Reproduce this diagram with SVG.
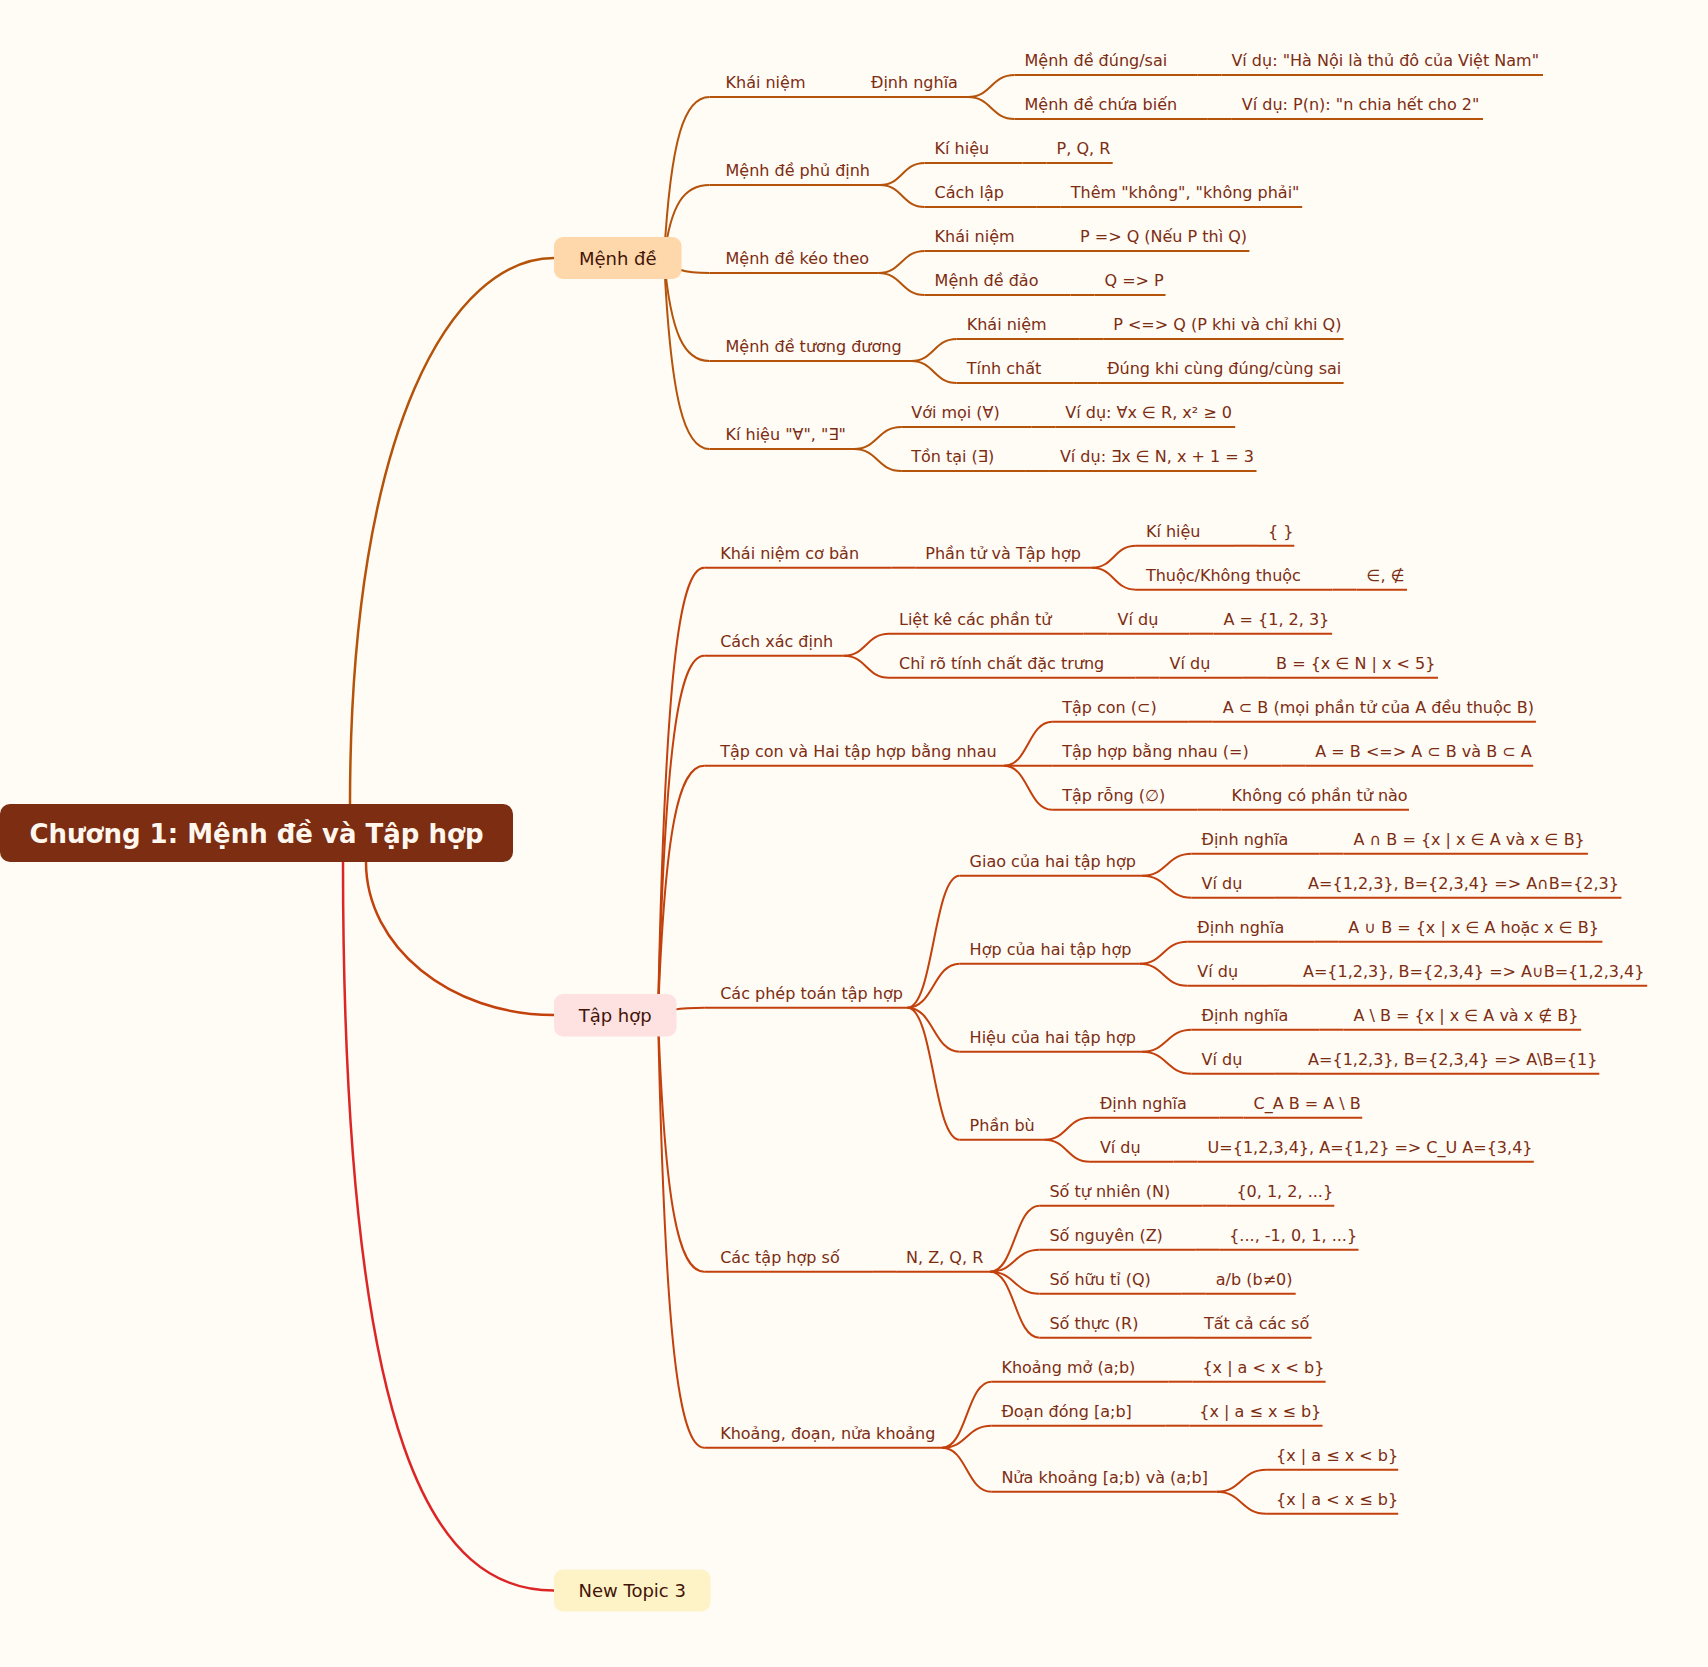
<svg xmlns="http://www.w3.org/2000/svg" width="1708" height="1667" viewBox="0 0 1708 1667">
<style>
.bg{fill:#FFFBF5}
.c{fill:none;stroke-width:2}
.ca{stroke:#B45309}
.co{stroke:#C2410C}
.cr{stroke:#DC2626}
.root{fill:none;stroke-width:2.5}
.ul path{fill:none;stroke-width:2}
.l{font-family:"DejaVu Sans","Noto Sans",sans-serif;font-size:16px;fill:#7C2D12;stroke:none}
.bt{font-family:"DejaVu Sans","Noto Sans",sans-serif;font-size:18px;fill:#431407;text-anchor:middle;stroke:none}
.rt{font-family:"DejaVu Sans","Noto Sans",sans-serif;font-size:26px;font-weight:bold;fill:#FFF7ED;text-anchor:middle;stroke:none}
</style>
<rect class="bg" x="0" y="0" width="1708" height="1667"/>
<g id="connectors">
<path class="root ca" d="M350 804C350 424 454 258 554 258"/>
<path class="root co" d="M366 862C366 946.5 450 1015 554 1015"/>
<path class="root cr" d="M343 862C343 1450 435 1590.5 554 1590.5"/>
<g class="c ca">
<path d="M664 258C670.8 137.25 684.5 97 709.5 97"/>
<path d="M664 258C670.8 203.25 684.5 185 709.5 185"/>
<path d="M664 258C670.8 269.25 684.5 273 709.5 273"/>
<path d="M664 258C670.8 335.25 684.5 361 709.5 361"/>
<path d="M664 258C670.8 401.25 684.5 449 709.5 449"/>
<path d="M837 97H861"/>
<path d="M968 97C991.25 97 991.25 75 1014.5 75"/>
<path d="M968 97C991.25 97 991.25 119 1014.5 119"/>
<path d="M1197.4 75H1221.4"/>
<path d="M1207.8 119H1231.8"/>
<path d="M880 185C902.3 185 902.3 163 924.6 163"/>
<path d="M880 185C902.3 185 902.3 207 924.6 207"/>
<path d="M1022.6 163H1046.6"/>
<path d="M1036.8 207H1060.8"/>
<path d="M878.5 273C901.55 273 901.55 251 924.6 251"/>
<path d="M878.5 273C901.55 273 901.55 295 924.6 295"/>
<path d="M1046 251H1070"/>
<path d="M1070.5 295H1094.5"/>
<path d="M911.2 361C933.95 361 933.95 339 956.7 339"/>
<path d="M911.2 361C933.95 361 933.95 383 956.7 383"/>
<path d="M1079.2 339H1103.2"/>
<path d="M1073.2 383H1097.2"/>
<path d="M854 449C877.6 449 877.6 427 901.2 427"/>
<path d="M854 449C877.6 449 877.6 471 901.2 471"/>
<path d="M1031.3 427H1055.3"/>
<path d="M1025.9 471H1049.9"/>
</g>
<g class="c co">
<path d="M658 1015C664.9 679.5 678.8 567.7 704.2 567.7"/>
<path d="M658 1015C664.9 745.5 678.8 655.7 704.2 655.7"/>
<path d="M658 1015C664.9 828 678.8 765.7 704.2 765.7"/>
<path d="M658 1015C664.9 1009.5 678.8 1007.7 704.2 1007.7"/>
<path d="M658 1015C664.9 1207.5 678.8 1271.7 704.2 1271.7"/>
<path d="M658 1015C664.9 1339.5 678.8 1447.7 704.2 1447.7"/>
<path d="M891.3 567.7H915.3"/>
<path d="M1092 567.7C1113.95 567.7 1113.95 545.7 1135.9 545.7"/>
<path d="M1092 567.7C1113.95 567.7 1113.95 589.7 1135.9 589.7"/>
<path d="M1234 545.7H1258"/>
<path d="M1332.5 589.7H1356.5"/>
<path d="M843.6 655.7C866.3 655.7 866.3 633.7 889 633.7"/>
<path d="M843.6 655.7C866.3 655.7 866.3 677.7 889 677.7"/>
<path d="M1083.6 633.7H1107.6"/>
<path d="M1189.5 633.7H1213.5"/>
<path d="M1135.5 677.7H1159.5"/>
<path d="M1242.1 677.7H1266.1"/>
<path d="M1004.2 765.7C1028.2 765.7 1028.2 721.7 1052.2 721.7"/>
<path d="M1004.2 765.7H1052.2"/>
<path d="M1004.2 765.7C1028.2 765.7 1028.2 809.7 1052.2 809.7"/>
<path d="M1188.8 721.7H1212.8"/>
<path d="M1281.3 765.7H1305.3"/>
<path d="M1197.6 809.7H1221.6"/>
<path d="M907.4 1007.7C933.5 1007.7 933.5 875.7 959.6 875.7"/>
<path d="M907.4 1007.7C933.5 1007.7 933.5 963.7 959.6 963.7"/>
<path d="M907.4 1007.7C933.5 1007.7 933.5 1051.7 959.6 1051.7"/>
<path d="M907.4 1007.7C933.5 1007.7 933.5 1139.7 959.6 1139.7"/>
<path d="M1142.2 875.7C1166.85 875.7 1166.85 853.7 1191.5 853.7"/>
<path d="M1142.2 875.7C1166.85 875.7 1166.85 897.7 1191.5 897.7"/>
<path d="M1319.5 853.7H1343.5"/>
<path d="M1274.1 897.7H1298.1"/>
<path d="M1139.6 963.7C1163.45 963.7 1163.45 941.7 1187.3 941.7"/>
<path d="M1139.6 963.7C1163.45 963.7 1163.45 985.7 1187.3 985.7"/>
<path d="M1314.3 941.7H1338.3"/>
<path d="M1269 985.7H1293"/>
<path d="M1142.2 1051.7C1166.85 1051.7 1166.85 1029.7 1191.5 1029.7"/>
<path d="M1142.2 1051.7C1166.85 1051.7 1166.85 1073.7 1191.5 1073.7"/>
<path d="M1319.5 1029.7H1343.5"/>
<path d="M1274.1 1073.7H1298.1"/>
<path d="M1044.3 1139.7C1067.1 1139.7 1067.1 1117.7 1089.9 1117.7"/>
<path d="M1044.3 1139.7C1067.1 1139.7 1067.1 1161.7 1089.9 1161.7"/>
<path d="M1219.5 1117.7H1243.5"/>
<path d="M1173.6 1161.7H1197.6"/>
<path d="M872.1 1271.7H896.1"/>
<path d="M990.1 1271.7C1014.75 1271.7 1014.75 1205.7 1039.4 1205.7"/>
<path d="M990.1 1271.7C1014.75 1271.7 1014.75 1249.7 1039.4 1249.7"/>
<path d="M990.1 1271.7C1014.75 1271.7 1014.75 1293.7 1039.4 1293.7"/>
<path d="M990.1 1271.7C1014.75 1271.7 1014.75 1337.7 1039.4 1337.7"/>
<path d="M1202.4 1205.7H1226.4"/>
<path d="M1195.2 1249.7H1219.2"/>
<path d="M1181.8 1293.7H1205.8"/>
<path d="M1170 1337.7H1194"/>
<path d="M942.2 1447.7C966.8 1447.7 966.8 1381.7 991.4 1381.7"/>
<path d="M942.2 1447.7C966.8 1447.7 966.8 1425.7 991.4 1425.7"/>
<path d="M942.2 1447.7C966.8 1447.7 966.8 1491.7 991.4 1491.7"/>
<path d="M1168.4 1381.7H1192.4"/>
<path d="M1165.3 1425.7H1189.3"/>
<path d="M1216.8 1491.7C1241.45 1491.7 1241.45 1469.7 1266.1 1469.7"/>
<path d="M1216.8 1491.7C1241.45 1491.7 1241.45 1513.7 1266.1 1513.7"/>
</g>
</g>
<g id="n-root"><rect x="0" y="804" width="513" height="58" rx="10" fill="#7C2D12"/><text class="rt" x="256.5" y="842.5">Chương 1: Mệnh đề và Tập hợp</text></g>
<g id="n-menhde"><rect x="554" y="237" width="127.5" height="42" rx="9" fill="#FED7AA"/><text class="bt" x="617.8" y="264.5">Mệnh đề</text></g>
<g id="n-taphop"><rect x="554" y="994" width="122.5" height="42.5" rx="9" fill="#FEE2E2"/><text class="bt" x="615.2" y="1021.5">Tập hợp</text></g>
<g id="n-newtopic"><rect x="554" y="1569.5" width="156.5" height="42" rx="9" fill="#FEF3C7"/><text class="bt" x="632.2" y="1596.5">New Topic 3</text></g>
<g class="ul ca">
<g id="m1"><path d="M709.5 97H837"/><text class="l" x="725.5" y="88">Khái niệm</text></g>
<g id="m1-dn"><path d="M861 97H968"/><text class="l" x="871" y="88">Định nghĩa</text></g>
<g id="m1-a"><path d="M1014.5 75H1197.4"/><text class="l" x="1024.5" y="66">Mệnh đề đúng/sai</text></g>
<g id="m1-a-v"><path d="M1221.4 75H1543"/><text class="l" x="1231.4" y="66">Ví dụ: "Hà Nội là thủ đô của Việt Nam"</text></g>
<g id="m1-b"><path d="M1014.5 119H1207.8"/><text class="l" x="1024.5" y="110">Mệnh đề chứa biến</text></g>
<g id="m1-b-v"><path d="M1231.8 119H1483"/><text class="l" x="1241.8" y="110">Ví dụ: P(n): "n chia hết cho 2"</text></g>
<g id="m2"><path d="M709.5 185H880"/><text class="l" x="725.5" y="176">Mệnh đề phủ định</text></g>
<g id="m2-a"><path d="M924.6 163H1022.6"/><text class="l" x="934.6" y="154">Kí hiệu</text></g>
<g id="m2-a-v"><path d="M1046.6 163H1112.7"/><text class="l" x="1056.6" y="154">P, Q, R</text></g>
<g id="m2-b"><path d="M924.6 207H1036.8"/><text class="l" x="934.6" y="198">Cách lập</text></g>
<g id="m2-b-v"><path d="M1060.8 207H1302.2"/><text class="l" x="1070.8" y="198">Thêm "không", "không phải"</text></g>
<g id="m3"><path d="M709.5 273H878.5"/><text class="l" x="725.5" y="264">Mệnh đề kéo theo</text></g>
<g id="m3-a"><path d="M924.6 251H1046"/><text class="l" x="934.6" y="242">Khái niệm</text></g>
<g id="m3-a-v"><path d="M1070 251H1249.4"/><text class="l" x="1080" y="242">P =&gt; Q (Nếu P thì Q)</text></g>
<g id="m3-b"><path d="M924.6 295H1070.5"/><text class="l" x="934.6" y="286">Mệnh đề đảo</text></g>
<g id="m3-b-v"><path d="M1094.5 295H1165.5"/><text class="l" x="1104.5" y="286">Q =&gt; P</text></g>
<g id="m4"><path d="M709.5 361H911.2"/><text class="l" x="725.5" y="352">Mệnh đề tương đương</text></g>
<g id="m4-a"><path d="M956.7 339H1079.2"/><text class="l" x="966.7" y="330">Khái niệm</text></g>
<g id="m4-a-v"><path d="M1103.2 339H1343.6"/><text class="l" x="1113.2" y="330">P &lt;=&gt; Q (P khi và chỉ khi Q)</text></g>
<g id="m4-b"><path d="M956.7 383H1073.2"/><text class="l" x="966.7" y="374">Tính chất</text></g>
<g id="m4-b-v"><path d="M1097.2 383H1343.6"/><text class="l" x="1107.2" y="374">Đúng khi cùng đúng/cùng sai</text></g>
<g id="m5"><path d="M709.5 449H854"/><text class="l" x="725.5" y="440">Kí hiệu "∀", "∃"</text></g>
<g id="m5-a"><path d="M901.2 427H1031.3"/><text class="l" x="911.2" y="418">Với mọi (∀)</text></g>
<g id="m5-a-v"><path d="M1055.3 427H1235.2"/><text class="l" x="1065.3" y="418">Ví dụ: ∀x ∈ R, x² ≥ 0</text></g>
<g id="m5-b"><path d="M901.2 471H1025.9"/><text class="l" x="911.2" y="462">Tồn tại (∃)</text></g>
<g id="m5-b-v"><path d="M1049.9 471H1256.5"/><text class="l" x="1059.9" y="462">Ví dụ: ∃x ∈ N, x + 1 = 3</text></g>
</g>
<g class="ul co">
<g id="t1"><path d="M704.2 567.7H891.3"/><text class="l" x="720.2" y="558.7">Khái niệm cơ bản</text></g>
<g id="t1-n"><path d="M915.3 567.7H1092"/><text class="l" x="925.3" y="558.7">Phần tử và Tập hợp</text></g>
<g id="t1-a"><path d="M1135.9 545.7H1234"/><text class="l" x="1145.9" y="536.7">Kí hiệu</text></g>
<g id="t1-a-v"><path d="M1258 545.7H1294.3"/><text class="l" x="1268" y="536.7">{ }</text></g>
<g id="t1-b"><path d="M1135.9 589.7H1332.5"/><text class="l" x="1145.9" y="580.7">Thuộc/Không thuộc</text></g>
<g id="t1-b-v"><path d="M1356.5 589.7H1407"/><text class="l" x="1366.5" y="580.7">∈, ∉</text></g>
<g id="t2"><path d="M704.2 655.7H843.6"/><text class="l" x="720.2" y="646.7">Cách xác định</text></g>
<g id="t2-a"><path d="M889 633.7H1083.6"/><text class="l" x="899" y="624.7">Liệt kê các phần tử</text></g>
<g id="t2-a-vd"><path d="M1107.6 633.7H1189.5"/><text class="l" x="1117.6" y="624.7">Ví dụ</text></g>
<g id="t2-a-v"><path d="M1213.5 633.7H1332.1"/><text class="l" x="1223.5" y="624.7">A = {1, 2, 3}</text></g>
<g id="t2-b"><path d="M889 677.7H1135.5"/><text class="l" x="899" y="668.7">Chỉ rõ tính chất đặc trưng</text></g>
<g id="t2-b-vd"><path d="M1159.5 677.7H1242.1"/><text class="l" x="1169.5" y="668.7">Ví dụ</text></g>
<g id="t2-b-v"><path d="M1266.1 677.7H1438"/><text class="l" x="1276.1" y="668.7">B = {x ∈ N | x &lt; 5}</text></g>
<g id="t3"><path d="M704.2 765.7H1004.2"/><text class="l" x="720.2" y="756.7">Tập con và Hai tập hợp bằng nhau</text></g>
<g id="t3-a"><path d="M1052.2 721.7H1188.8"/><text class="l" x="1062.2" y="712.7">Tập con (⊂)</text></g>
<g id="t3-a-v"><path d="M1212.8 721.7H1535.9"/><text class="l" x="1222.8" y="712.7">A ⊂ B (mọi phần tử của A đều thuộc B)</text></g>
<g id="t3-b"><path d="M1052.2 765.7H1281.3"/><text class="l" x="1062.2" y="756.7">Tập hợp bằng nhau (=)</text></g>
<g id="t3-b-v"><path d="M1305.3 765.7H1533.2"/><text class="l" x="1315.3" y="756.7">A = B &lt;=&gt; A ⊂ B và B ⊂ A</text></g>
<g id="t3-c"><path d="M1052.2 809.7H1197.6"/><text class="l" x="1062.2" y="800.7">Tập rỗng (∅)</text></g>
<g id="t3-c-v"><path d="M1221.6 809.7H1409"/><text class="l" x="1231.6" y="800.7">Không có phần tử nào</text></g>
<g id="t4"><path d="M704.2 1007.7H907.4"/><text class="l" x="720.2" y="998.7">Các phép toán tập hợp</text></g>
<g id="t4-a"><path d="M959.6 875.7H1142.2"/><text class="l" x="969.6" y="866.7">Giao của hai tập hợp</text></g>
<g id="t4-a-1"><path d="M1191.5 853.7H1319.5"/><text class="l" x="1201.5" y="844.7">Định nghĩa</text></g>
<g id="t4-a-1-v"><path d="M1343.5 853.7H1587.9"/><text class="l" x="1353.5" y="844.7">A ∩ B = {x | x ∈ A và x ∈ B}</text></g>
<g id="t4-a-2"><path d="M1191.5 897.7H1274.1"/><text class="l" x="1201.5" y="888.7">Ví dụ</text></g>
<g id="t4-a-2-v"><path d="M1298.1 897.7H1621.4"/><text class="l" x="1308.1" y="888.7">A={1,2,3}, B={2,3,4} =&gt; A∩B={2,3}</text></g>
<g id="t4-b"><path d="M959.6 963.7H1139.6"/><text class="l" x="969.6" y="954.7">Hợp của hai tập hợp</text></g>
<g id="t4-b-1"><path d="M1187.3 941.7H1314.3"/><text class="l" x="1197.3" y="932.7">Định nghĩa</text></g>
<g id="t4-b-1-v"><path d="M1338.3 941.7H1602.4"/><text class="l" x="1348.3" y="932.7">A ∪ B = {x | x ∈ A hoặc x ∈ B}</text></g>
<g id="t4-b-2"><path d="M1187.3 985.7H1269"/><text class="l" x="1197.3" y="976.7">Ví dụ</text></g>
<g id="t4-b-2-v"><path d="M1293 985.7H1647.2"/><text class="l" x="1303" y="976.7">A={1,2,3}, B={2,3,4} =&gt; A∪B={1,2,3,4}</text></g>
<g id="t4-c"><path d="M959.6 1051.7H1142.2"/><text class="l" x="969.6" y="1042.7">Hiệu của hai tập hợp</text></g>
<g id="t4-c-1"><path d="M1191.5 1029.7H1319.5"/><text class="l" x="1201.5" y="1020.7">Định nghĩa</text></g>
<g id="t4-c-1-v"><path d="M1343.5 1029.7H1581.2"/><text class="l" x="1353.5" y="1020.7">A \ B = {x | x ∈ A và x ∉ B}</text></g>
<g id="t4-c-2"><path d="M1191.5 1073.7H1274.1"/><text class="l" x="1201.5" y="1064.7">Ví dụ</text></g>
<g id="t4-c-2-v"><path d="M1298.1 1073.7H1599.3"/><text class="l" x="1308.1" y="1064.7">A={1,2,3}, B={2,3,4} =&gt; A\B={1}</text></g>
<g id="t4-d"><path d="M959.6 1139.7H1044.3"/><text class="l" x="969.6" y="1130.7">Phần bù</text></g>
<g id="t4-d-1"><path d="M1089.9 1117.7H1219.5"/><text class="l" x="1099.9" y="1108.7">Định nghĩa</text></g>
<g id="t4-d-1-v"><path d="M1243.5 1117.7H1362.2"/><text class="l" x="1253.5" y="1108.7">C_A B = A \ B</text></g>
<g id="t4-d-2"><path d="M1089.9 1161.7H1173.6"/><text class="l" x="1099.9" y="1152.7">Ví dụ</text></g>
<g id="t4-d-2-v"><path d="M1197.6 1161.7H1533.8"/><text class="l" x="1207.6" y="1152.7">U={1,2,3,4}, A={1,2} =&gt; C_U A={3,4}</text></g>
<g id="t5"><path d="M704.2 1271.7H872.1"/><text class="l" x="720.2" y="1262.7">Các tập hợp số</text></g>
<g id="t5-n"><path d="M896.1 1271.7H990.1"/><text class="l" x="906.1" y="1262.7">N, Z, Q, R</text></g>
<g id="t5-a"><path d="M1039.4 1205.7H1202.4"/><text class="l" x="1049.4" y="1196.7">Số tự nhiên (N)</text></g>
<g id="t5-a-v"><path d="M1226.4 1205.7H1334.3"/><text class="l" x="1236.4" y="1196.7">{0, 1, 2, ...}</text></g>
<g id="t5-b"><path d="M1039.4 1249.7H1195.2"/><text class="l" x="1049.4" y="1240.7">Số nguyên (Z)</text></g>
<g id="t5-b-v"><path d="M1219.2 1249.7H1358.5"/><text class="l" x="1229.2" y="1240.7">{..., -1, 0, 1, ...}</text></g>
<g id="t5-c"><path d="M1039.4 1293.7H1181.8"/><text class="l" x="1049.4" y="1284.7">Số hữu tỉ (Q)</text></g>
<g id="t5-c-v"><path d="M1205.8 1293.7H1295.7"/><text class="l" x="1215.8" y="1284.7">a/b (b≠0)</text></g>
<g id="t5-d"><path d="M1039.4 1337.7H1170"/><text class="l" x="1049.4" y="1328.7">Số thực (R)</text></g>
<g id="t5-d-v"><path d="M1194 1337.7H1311.6"/><text class="l" x="1204" y="1328.7">Tất cả các số</text></g>
<g id="t6"><path d="M704.2 1447.7H942.2"/><text class="l" x="720.2" y="1438.7">Khoảng, đoạn, nửa khoảng</text></g>
<g id="t6-a"><path d="M991.4 1381.7H1168.4"/><text class="l" x="1001.4" y="1372.7">Khoảng mở (a;b)</text></g>
<g id="t6-a-v"><path d="M1192.4 1381.7H1325.6"/><text class="l" x="1202.4" y="1372.7">{x | a &lt; x &lt; b}</text></g>
<g id="t6-b"><path d="M991.4 1425.7H1165.3"/><text class="l" x="1001.4" y="1416.7">Đoạn đóng [a;b]</text></g>
<g id="t6-b-v"><path d="M1189.3 1425.7H1322.5"/><text class="l" x="1199.3" y="1416.7">{x | a ≤ x ≤ b}</text></g>
<g id="t6-c"><path d="M991.4 1491.7H1216.8"/><text class="l" x="1001.4" y="1482.7">Nửa khoảng [a;b) và (a;b]</text></g>
<g id="t6-c-1"><path d="M1266.1 1469.7H1398.2"/><text class="l" x="1276.1" y="1460.7">{x | a ≤ x &lt; b}</text></g>
<g id="t6-c-2"><path d="M1266.1 1513.7H1398.2"/><text class="l" x="1276.1" y="1504.7">{x | a &lt; x ≤ b}</text></g>
</g>
</svg>
